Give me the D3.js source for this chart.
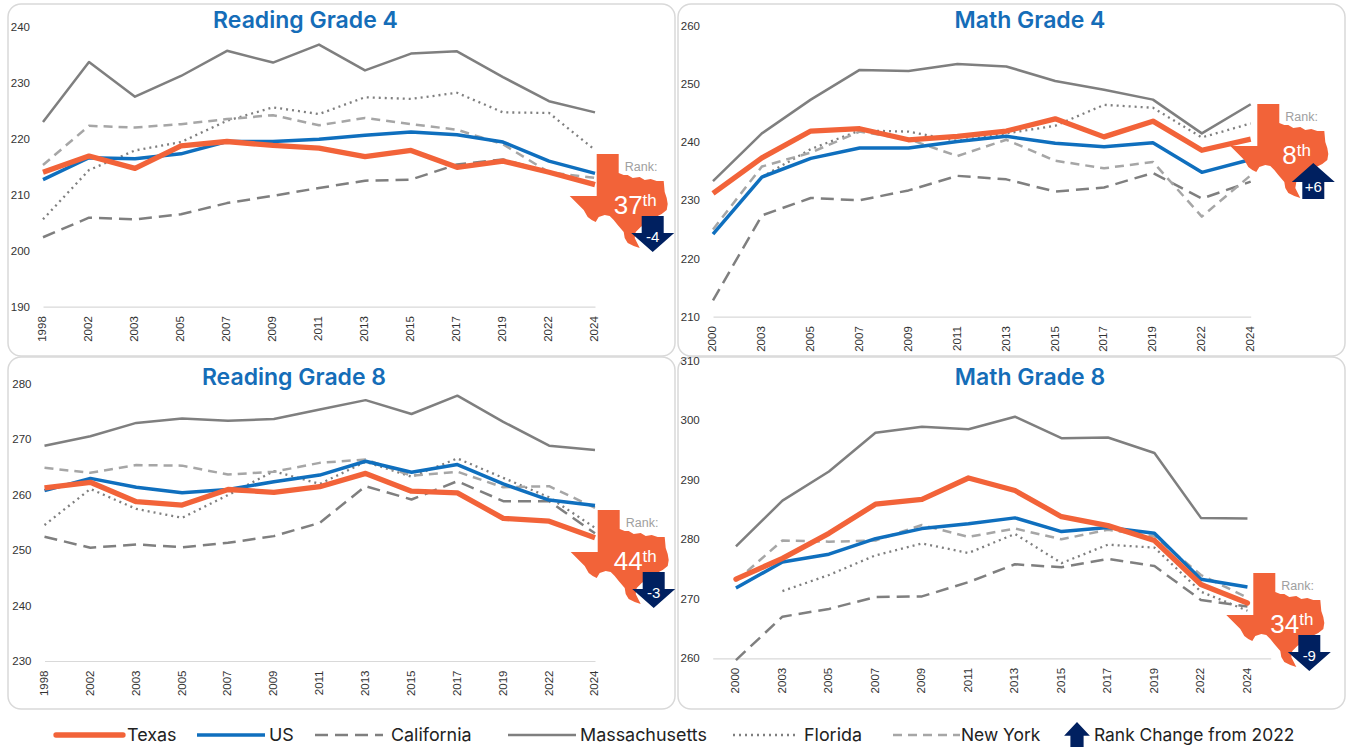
<!DOCTYPE html>
<html>
<head>
<meta charset="utf-8">
<title>NAEP scores</title>
<script src="https://cdn.jsdelivr.net/npm/d3@7"></script>
<style>
    html, body { margin: 0; background: #fff; }
    svg { display: block; }
    text { font-family: "Liberation Sans", sans-serif; }
    .title { font-family: Inter, sans-serif; font-weight: 600; font-size: 23px; fill: #156db8; text-anchor: middle; }
    .legend text { font-family: Inter, sans-serif; font-size: 17.9px; fill: #222; }
    .legend text.narrow { font-size: 17.4px; }
    .tick text { font-family: "Liberation Sans", sans-serif; font-size: 11.5px; fill: #333; }
</style>
</head>
<body>
<svg id="chart" width="1348" height="747"></svg>
<script>
const yearsReading = ["1998", "2002", "2003", "2005", "2007", "2009", "2011", "2013", "2015", "2017", "2019", "2022", "2024"];
const yearsMath = ["2000", "2003", "2005", "2007", "2009", "2011", "2013", "2015", "2017", "2019", "2022", "2024"];

const reading4Texas = [214, 216.9, 214.7, 218.7, 219.5, 218.8, 218.3, 216.8, 217.9, 214.9, 216, 214, 211.8];
const reading4US = [212.7, 216.6, 216.4, 217.3, 219.5, 219.5, 219.9, 220.6, 221.2, 220.7, 219.4, 216, 213.8];
const reading4California = [202.4, 205.9, 205.6, 206.5, 208.5, 209.8, 211.2, 212.5, 212.7, 215.4, 216.3, 214, 212];
const reading4Massachusetts = [223, 233.7, 227.5, 231.2, 235.7, 233.6, 236.8, 232.2, 235.2, 235.6, 231, 226.7, 224.7];
const reading4Florida = [205.6, 214.4, 217.9, 219.4, 223.2, 225.6, 224.4, 227.4, 227.1, 228.2, 224.7, 224.6, 218];
const reading4NewYork = [215.3, 222.3, 222, 222.6, 223.5, 224.2, 222.4, 223.7, 222.6, 221.6, 219, 214, 213];

const math4Texas = [231.2, 237.3, 241.9, 242.3, 240.4, 241, 241.9, 244, 240.9, 243.6, 238.6, 240.5];
const math4US = [224.2, 234, 237.2, 239, 239, 240.1, 241, 239.8, 239.2, 239.9, 234.8, 237];
const math4California = [212.8, 227.4, 230.4, 230, 231.7, 234.2, 233.6, 231.5, 232.2, 234.7, 230.3, 233.2];
const math4Massachusetts = [233.3, 241.5, 247.3, 252.4, 252.2, 253.4, 253, 250.5, 249, 247.3, 241.5, 246.5];
const math4Florida = [null, 234, 238.8, 242, 241.8, 240.2, 241.5, 242.8, 246.4, 245.9, 240.8, 243.2];
const math4NewYork = [225, 235.8, 238.2, 241.8, 240.5, 237.6, 240.4, 236.8, 235.5, 236.6, 227.2, 234.3];

const reading8Texas = [261.2, 262.2, 258.7, 258.1, 260.9, 260.4, 261.4, 263.8, 260.6, 260.3, 255.7, 255.2, 252.2];
const reading8US = [260.7, 262.9, 261.3, 260.3, 260.9, 262.3, 263.5, 266, 264, 265.4, 261.9, 259, 258];
const reading8California = [252.4, 250.4, 251, 250.5, 251.3, 252.5, 254.9, 261.5, 259.1, 262.4, 258.8, 258.8, 253];
const reading8Massachusetts = [268.8, 270.5, 272.9, 273.7, 273.3, 273.6, 275.3, 277, 274.5, 277.8, 273.1, 268.8, 268];
const reading8Florida = [254.5, 261, 257.4, 255.8, 259.9, 264.2, 261.9, 265.9, 263.2, 266.5, 263, 259.5, 254];
const reading8NewYork = [264.8, 263.9, 265.3, 265.2, 263.6, 264.1, 265.7, 266.3, 263.4, 264.1, 261.3, 261.5, 257.6];

const math8Texas = [273.3, 276.8, 281, 285.9, 286.7, 290.3, 288.2, 283.8, 282.3, 279.8, 272.4, 269.3];
const math8US = [271.8, 276.2, 277.5, 280.1, 281.8, 282.6, 283.6, 281.3, 282, 281, 273.3, 272];
const math8California = [259.7, 267, 268.3, 270.3, 270.4, 272.8, 275.8, 275.3, 276.7, 275.5, 269.8, 268.7];
const math8Massachusetts = [278.8, 286.5, 291.4, 297.9, 298.9, 298.5, 300.6, 297, 297.1, 294.5, 283.6, 283.5];
const math8Florida = [null, 271.3, 274, 277.3, 279.3, 277.7, 280.9, 276, 279.1, 278.6, 271.2, 268];
const math8NewYork = [273, 279.8, 279.6, 279.8, 282.4, 280.4, 281.8, 280, 281.6, 280.5, 274, 270.2];

// outline of the state, relative to the top left corner of the panhandle
const texasOutline = [[0, 0], [22, 0], [22, 19], [27, 21], [31, 21], [36, 24], [43, 23], [48, 26], [54, 25], [60, 27], [67, 27],
    [68, 38], [70, 44], [71, 50], [70, 56], [65, 60], [57, 64], [50, 69], [44, 73], [39, 78], [38, 84], [43, 94], [37, 92], [31, 89],
    [28, 84], [27, 78], [21, 71], [17, 66], [13, 62], [8, 61], [2, 63], [-1, 68], [-5, 66], [-9, 63], [-13, 56], [-18, 51], [-23, 46], [-27, 42], [0, 42]];

// Drawn in this order, Texas last so it sits on top
const seriesStyles = [
    {name: "California", color: "#7f7f7f", width: 2.5, dash: "13 7"},
    {name: "Massachusetts", color: "#7f7f7f", width: 2.5, dash: null},
    {name: "Florida", color: "#7f7f7f", width: 2.3, dash: "2 4"},
    {name: "New York", color: "#a6a6a6", width: 2.5, dash: "9 6"},
    {name: "US", color: "#0f6fbe", width: 3.5, dash: null},
    {name: "Texas", color: "#f26339", width: 5.3, dash: null}
];

const panels = [
    {
        title: "Reading Grade 4", titleX: 305.5, titleY: 28, card: [8, 4], years: yearsReading, padding: 0,
        xRange: [43, 595], yRange: [306.7, 26.7], domain: [190, 240], cap: "butt",
        rank: "37", change: "-4", texas: [596.7, 154], rankDx: 17,
        values: [reading4California, reading4Massachusetts, reading4Florida, reading4NewYork, reading4US, reading4Texas]
    },
    {
        title: "Math Grade 4", titleX: 1030, titleY: 28, card: [678, 4], years: yearsMath, padding: 0,
        xRange: [713, 1250.7], yRange: [316.7, 25.7], domain: [210, 260], cap: "butt",
        rank: "8", change: "+6", texas: [1257.3, 104], rankDx: 25,
        values: [math4California, math4Massachusetts, math4Florida, math4NewYork, math4US, math4Texas]
    },
    {
        title: "Reading Grade 8", titleX: 294, titleY: 385, card: [8, 357], years: yearsReading, padding: 0,
        xRange: [44.5, 595], yRange: [661, 383.5], domain: [230, 280], cap: "butt",
        rank: "44", change: "-3", texas: [597.7, 510], rankDx: 16,
        values: [reading8California, reading8Massachusetts, reading8Florida, reading8NewYork, reading8US, reading8Texas]
    },
    {
        title: "Math Grade 8", titleX: 1030, titleY: 385, card: [678, 357], years: yearsMath, padding: 0.5,
        xRange: [712.7, 1270.7], yRange: [658.3, 360.8], domain: [260, 310], cap: "round",
        rank: "34", change: "-9", texas: [1253.3, 573], rankDx: 17,
        values: [math8California, math8Massachusetts, math8Florida, math8NewYork, math8US, math8Texas]
    }
];

const svg = d3.select("#chart");
const texasPath = d3.line()(texasOutline);

function arrowPath(up) {
    // shaft half width 11, head half width 21.5, 36 tall, tip at y = 0
    const s = up ? 1 : -1;
    return d3.line()([[0, 0], [21.5, s * 19], [11, s * 19], [11, s * 36], [-11, s * 36], [-11, s * 19], [-21.5, s * 19]]) + "Z";
}

function drawCard(p) {
    svg.append("rect")
        .attr("x", p.card[0]).attr("y", p.card[1])
        .attr("width", 667).attr("height", 352)
        .attr("rx", 13)
        .attr("fill", "#fff")
        .attr("stroke", "#d9d9d9")
        .attr("stroke-width", 1.5);
}

function drawPanel(p) {
    const g = svg.append("g");
    const x = d3.scalePoint().domain(p.years).range(p.xRange).padding(p.padding);
    const y = d3.scaleLinear().domain(p.domain).range(p.yRange);
    const baseline = p.yRange[0];

    const xAxis = g.append("g")
        .attr("transform", "translate(0," + baseline + ")")
        .call(d3.axisBottom(x).tickSize(0).tickPadding(0));
    xAxis.select(".domain").attr("stroke", "#d9d9d9").attr("stroke-width", 1.2);
    xAxis.selectAll("text")
        .attr("transform", "rotate(-90)")
        .attr("text-anchor", "end")
        .attr("x", -9.5)
        .attr("y", 0)
        .attr("dy", "0.25em");

    const yAxis = g.append("g")
        .attr("transform", "translate(" + p.xRange[0] + ",0)")
        .call(d3.axisLeft(y).ticks(5).tickSize(0).tickPadding(13));
    yAxis.select(".domain").remove();

    const line = d3.line()
        .defined(function (d) { return d !== null; })
        .x(function (d, i) { return x(p.years[i]); })
        .y(function (d) { return y(d); });

    seriesStyles.forEach(function (s, i) {
        g.append("path")
            .attr("d", line(p.values[i]))
            .attr("fill", "none")
            .attr("stroke", s.color)
            .attr("stroke-width", s.width)
            .attr("stroke-linejoin", "round")
            .attr("stroke-linecap", s.name === "Texas" ? p.cap : "butt")
            .attr("stroke-dasharray", s.dash);
    });

    drawRank(p);
}

function drawRank(p) {
    const g = svg.append("g").attr("transform", "translate(" + p.texas[0] + "," + p.texas[1] + ")");
    const up = p.change[0] === "+";

    g.append("path").attr("d", texasPath + "Z").attr("fill", "#f26339");
    g.append("text")
        .attr("x", 28).attr("y", 17)
        .attr("font-size", 12.5)
        .attr("fill", "#a0a0a0")
        .text("Rank:");

    const rank = g.append("text")
        .attr("x", p.rankDx).attr("y", 60)
        .attr("font-size", 26)
        .attr("fill", "#fff");
    rank.append("tspan").text(p.rank);
    rank.append("tspan").attr("font-size", 17).attr("dy", -8).text("th");

    const arrow = g.append("g").attr("transform", "translate(56," + (up ? 59 : 98) + ")");
    arrow.append("path").attr("d", arrowPath(up)).attr("fill", "#002060");
    arrow.append("text")
        .attr("y", up ? 29 : -10)
        .attr("text-anchor", "middle")
        .attr("font-size", 15)
        .attr("fill", "#fff")
        .text(p.change);
}

function drawLegend() {
    const items = [
        {name: "Texas", x1: 56, x2: 123, tx: 127},
        {name: "US", x1: 197, x2: 265, tx: 269},
        {name: "California", x1: 315, x2: 383, tx: 391},
        {name: "Massachusetts", x1: 508, x2: 576, tx: 580},
        {name: "Florida", x1: 733, x2: 798, tx: 804},
        {name: "New York", x1: 893, x2: 960, tx: 961}
    ];
    const g = svg.append("g").attr("class", "legend");
    items.forEach(function (d) {
        const s = seriesStyles.find(function (e) { return e.name === d.name; });
        g.append("line")
            .attr("x1", d.x1).attr("x2", d.x2)
            .attr("y1", 735).attr("y2", 735)
            .attr("stroke", s.color)
            .attr("stroke-width", s.width)
            .attr("stroke-linecap", d.name === "Texas" ? "round" : "butt")
            .attr("stroke-dasharray", s.dash);
        g.append("text")
            .attr("class", d.name === "New York" ? "narrow" : null)
            .attr("x", d.tx).attr("y", 741).text(d.name);
    });
    g.append("path")
        .attr("transform", "translate(1077,722) scale(0.6,0.72)")
        .attr("d", arrowPath(true))
        .attr("fill", "#002060");
    g.append("text").attr("class", "narrow").attr("x", 1094).attr("y", 741).text("Rank Change from 2022");
}

panels.forEach(drawCard);
panels.forEach(function (p) {
    svg.append("text").attr("class", "title").attr("x", p.titleX).attr("y", p.titleY).text(p.title);
});
panels.forEach(drawPanel);
drawLegend();
</script>
</body>
</html>
